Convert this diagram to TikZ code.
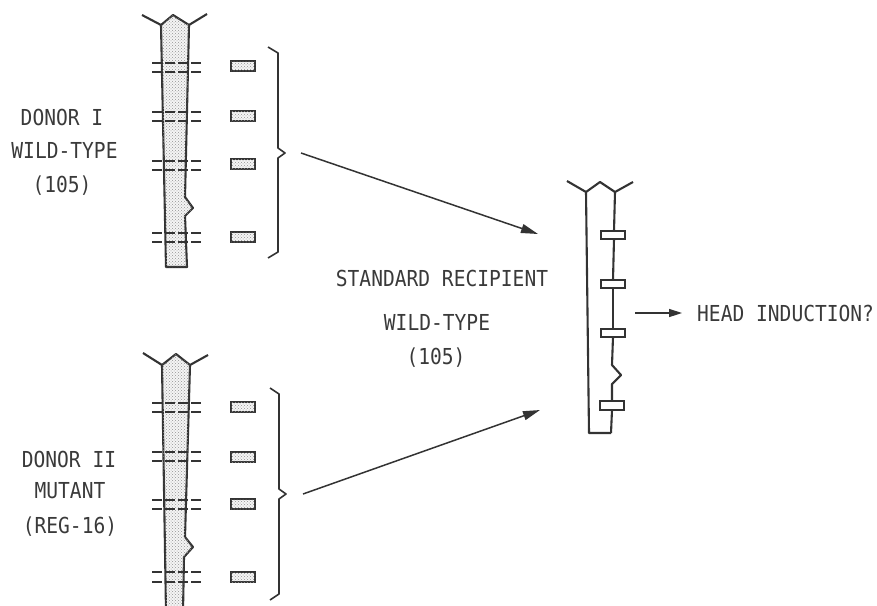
\documentclass[tikz,border=0pt]{standalone}
\usepackage{fontspec}
\newfontfamily\gothic[FakeStretch=0.89]{DejaVu Sans Mono}
\usetikzlibrary{arrows.meta,patterns}
\definecolor{ink}{HTML}{333333}
\definecolor{txt}{HTML}{3A3A3A}
\begin{document}
\begin{tikzpicture}[x=1pt,y=-1pt,
  outline/.style={draw=ink,line width=2.1pt,line join=round},
  stipple/.style={fill=gray!8,postaction={pattern=crosshatch dots,pattern color=gray!85}},
  band/.style={draw=ink,line width=2pt,stipple},
  rband/.style={draw=ink,line width=1.8pt,fill=white},
  dashline/.style={draw=ink,line width=1.4pt,dash pattern=on 10pt off 3pt},
  bracket/.style={draw=ink,line width=1.6pt,line join=round},
  conn/.style={draw=ink,line width=1.5pt,-{Triangle[length=17pt,width=9pt]}},
  shortconn/.style={draw=ink,line width=1.5pt,-{Triangle[length=13pt,width=8pt]}},
  lbl/.style={font=\gothic\fontsize{22}{26}\selectfont,text=txt,inner sep=0pt,text height=16pt,text depth=0pt}]
\useasboundingbox (0,0) rectangle (877,605);
\clip (0,0) rectangle (877,605);

% ---------------- Donor I ----------------
\path[outline,stipple] (161,25) -- (173,15) -- (189,25) -- (185,197) -- (193,208) -- (185,216) -- (187,267) -- (166,267) -- cycle;
\draw[outline] (142,15) -- (161,25);
\draw[outline] (189,25) -- (207,14);
\foreach \y in {63,72,112,121,161,170,233,242}
  \draw[dashline] (152,\y) -- (201,\y);
\foreach \c in {66,116,164,237}
  \draw[band] (231,\c-5) rectangle (255,\c+5);
\draw[bracket] (268,47) -- (278,53) -- (278,148) -- (285,153) -- (278,158) -- (278,252) -- (268,258);
\coordinate (b1) at (301,153);

% ---------------- Donor II ----------------
\path[outline,stipple] (162,365) -- (176,354) -- (190,365) -- (185,537) -- (193,547) -- (184,557) -- (183,612) -- (166,612) -- cycle;
\draw[outline] (143,353) -- (162,365);
\draw[outline] (190,365) -- (208,355);
\foreach \y in {403,412,452,461,500,509,572,582}
  \draw[dashline] (152,\y) -- (201,\y);
\foreach \c in {407,457,504,577}
  \draw[band] (231,\c-5) rectangle (255,\c+5);
\draw[bracket] (270,388) -- (279,394) -- (279,489) -- (286,494) -- (279,499) -- (279,594) -- (270,600);
\coordinate (b2) at (303,494);

% ---------------- Recipient ----------------
\draw[outline] (567,181) -- (586,192) -- (600,182) -- (615,192) -- (633,182);
\draw[outline] (586,192) -- (589,433) -- (611,433);
\draw[outline] (615,192) -- (614,231);
\draw[outline] (614,239) -- (613,280);
\draw[outline] (613,288) -- (613,329);
\draw[outline] (613,337) -- (612,365) -- (621,375) -- (612,384) -- (612,401);
\draw[outline] (612,410) -- (611,433);
\draw[rband] (601,231) rectangle (625,239);
\draw[rband] (601,280) rectangle (625,288);
\draw[rband] (601,329) rectangle (625,337);
\draw[rband] (600,401) rectangle (624,410);
\coordinate (r1) at (538,234);
\coordinate (r2) at (540,410);
\coordinate (rout) at (635,313);

% ---------------- Labels ----------------
\node[lbl] (d1a) at (62,117) {DONOR I};
\node[lbl] (d1b) at (64.5,150) {WILD-TYPE};
\node[lbl] (d1c) at (62,184) {(105)};
\node[lbl] (d2a) at (69,459) {DONOR II};
\node[lbl] (d2b) at (70,490) {MUTANT};
\node[lbl] (d2c) at (70,525) {(REG-16)};
\node[lbl] (sra) at (442,278) {STANDARD RECIPIENT};
\node[lbl] (srb) at (437,322) {WILD-TYPE};
\node[lbl] (src) at (436,356) {(105)};
\node[lbl,anchor=west] (head) at (697,313) {HEAD INDUCTION?};

% ---------------- Connectors ----------------
\draw[conn] (b1) -- (r1);
\draw[conn] (b2) -- (r2);
\draw[shortconn] (rout) -- ([xshift=-15pt]head.west);
\end{tikzpicture}
\end{document}
